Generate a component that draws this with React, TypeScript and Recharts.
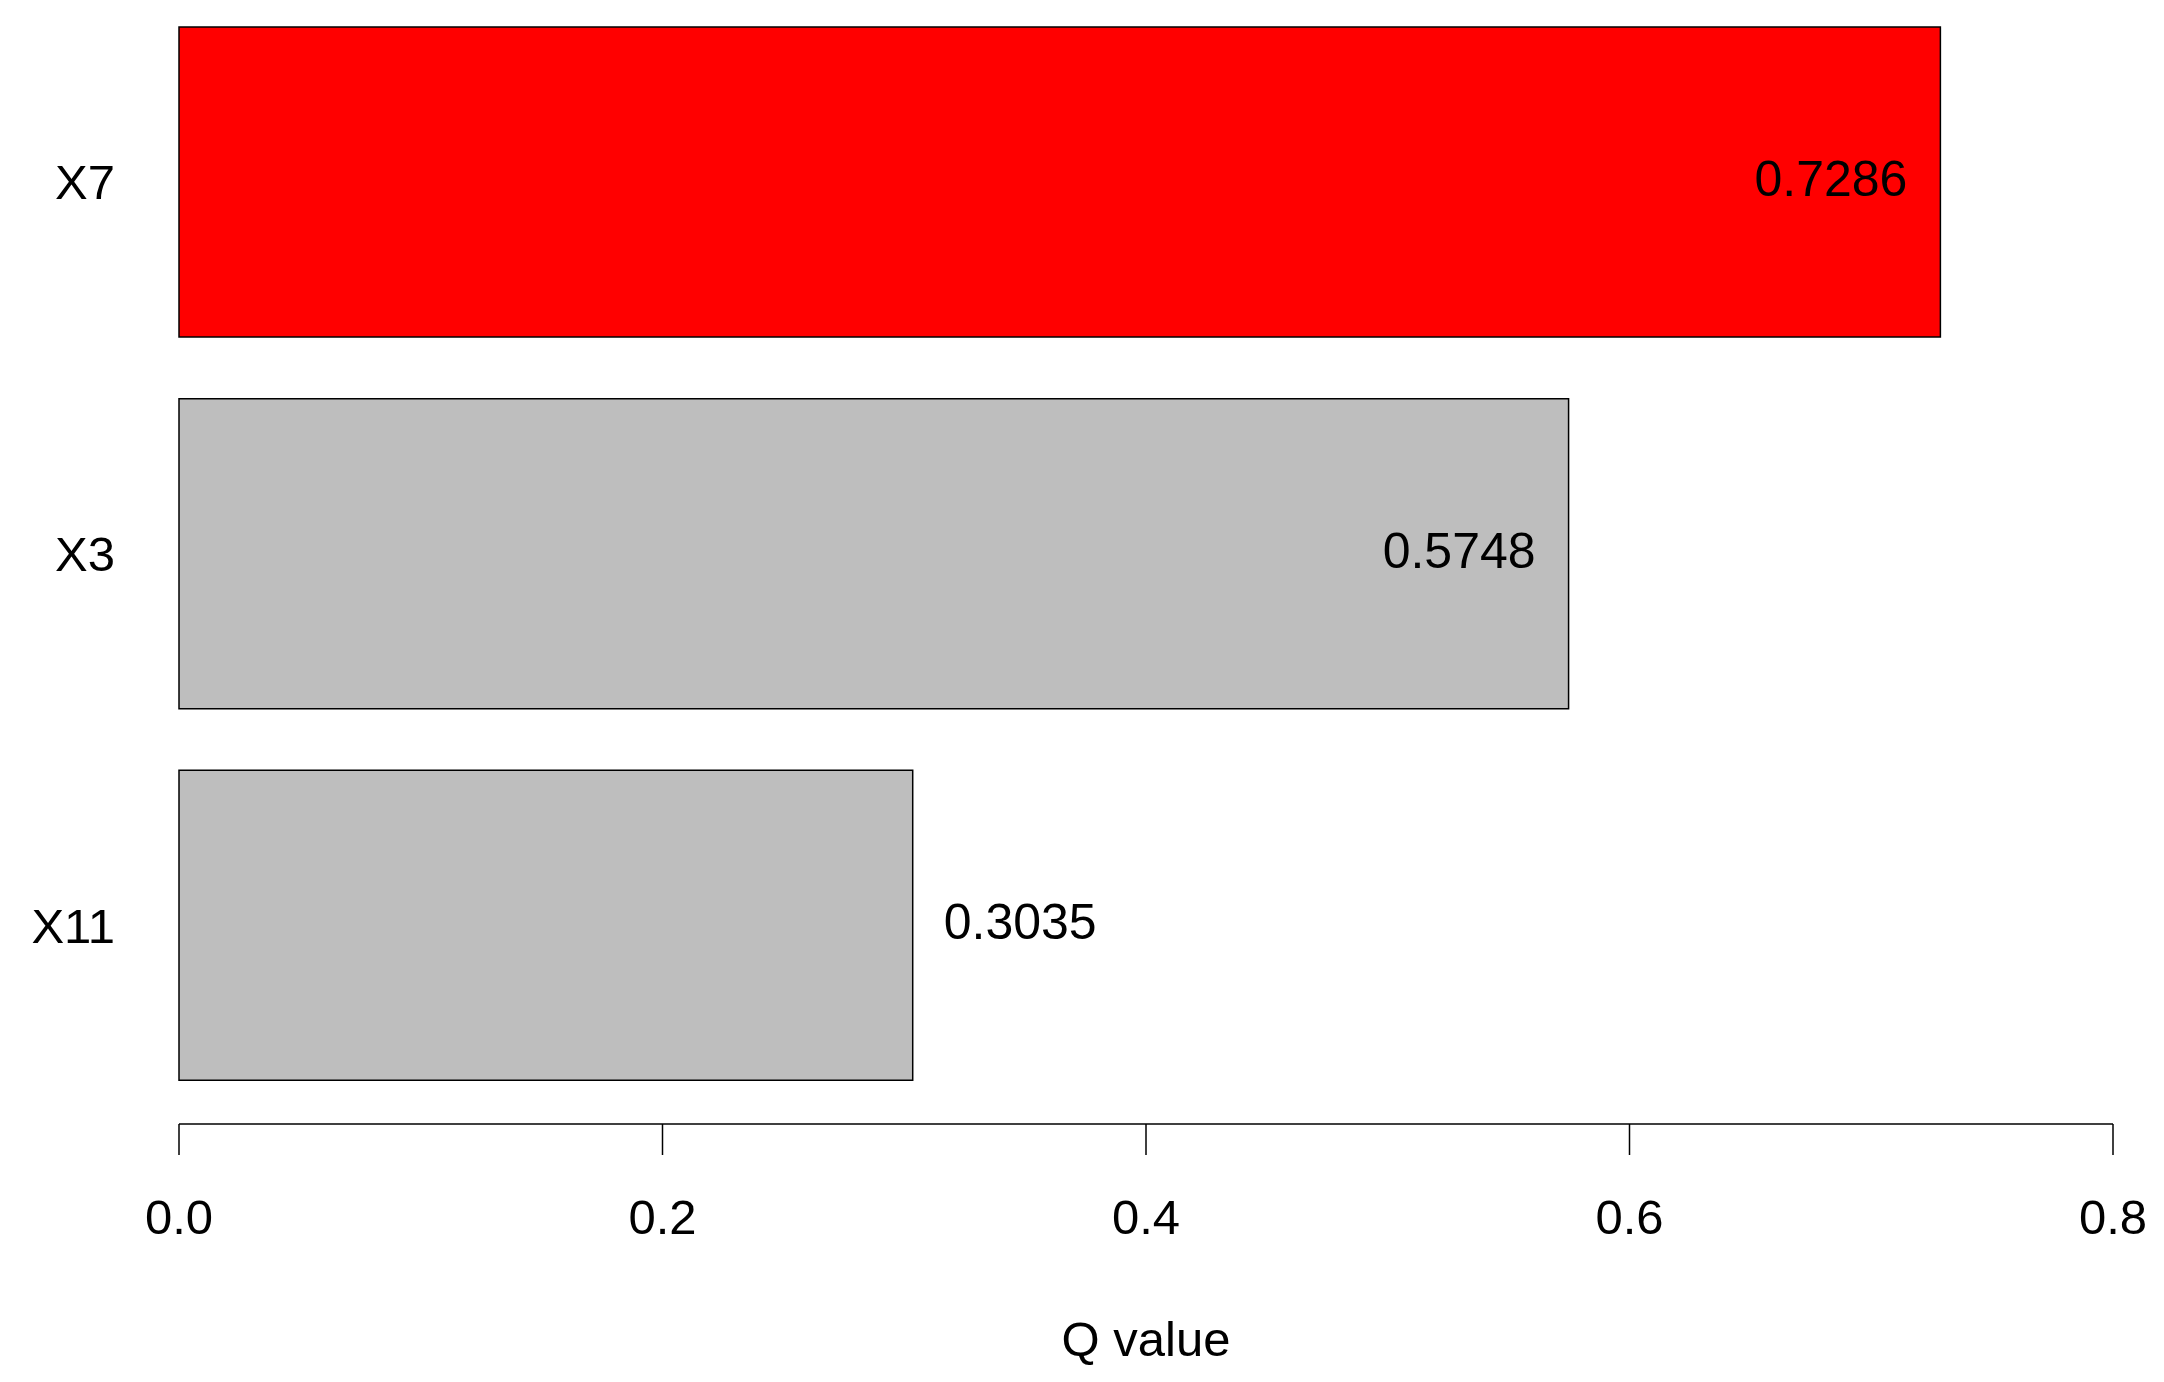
import React from 'react';
import { BarChart, Bar, XAxis, YAxis, Cell, LabelList } from 'recharts';

const categories = ['X7', 'X3', 'X11'];
const qValues = [0.7286, 0.5748, 0.3035];
const xTicks = [0, 0.2, 0.4, 0.6, 0.8];
const highlighted = 'X7';

const data = categories.map((name, i) => ({ name, q: qValues[i] }));

const FONT = '"Liberation Sans", Arial, sans-serif';
const W = 2164;
const H = 1392;
const Y_AXIS_W = 100;

// values on long bars sit inside the right end, short ones just outside
const ValueLabel = (props: any) => {
  const { x, y, width, height, value } = props;
  const v = Number(value);
  const inside = v > 0.5;
  const bx = Number(x) + Number(width);
  return (
    <text
      x={inside ? bx - 33 : bx + 31}
      y={Number(y) + Number(height) / 2}
      dy="0.28em"
      textAnchor={inside ? 'end' : 'start'}
      fontSize={50}
      fontFamily={FONT}
      fill="#000"
    >
      {v.toFixed(4)}
    </text>
  );
};

export default function App() {
  return (
    <div style={{ position: 'absolute', left: 0, top: -10, width: W, height: H, background: '#fff', fontFamily: FONT }}>
      <BarChart
        layout="vertical"
        width={W}
        height={H}
        data={data}
        margin={{ top: 6, right: 51, bottom: 61, left: 179 - Y_AXIS_W }}
      >
        <XAxis
          type="number"
          dataKey="q"
          domain={[0, 0.8]}
          ticks={xTicks}
          tickFormatter={(v: number) => v.toFixed(1)}
          height={197}
          axisLine={{ stroke: '#000', strokeWidth: 1.5 }}
          tickLine={{ stroke: '#000', strokeWidth: 1.5 }}
          tickSize={31}
          tickMargin={44}
          tick={{ fill: '#000', fontSize: 49, fontFamily: FONT }}
          label={{ value: 'Q value', position: 'bottom', offset: 0, fill: '#000', fontSize: 49, fontFamily: FONT }}
        />
        <YAxis
          type="category"
          dataKey="name"
          width={Y_AXIS_W}
          axisLine={false}
          tickLine={false}
          tickSize={64}
          tickMargin={0}
          padding={{ top: 0, bottom: 13 }}
          tick={{ fill: '#000', fontSize: 49, fontFamily: FONT }}
        />
        <Bar dataKey="q" barSize={310} stroke="#000" strokeWidth={1.5} isAnimationActive={false}>
          {data.map((d) => (
            <Cell key={d.name} fill={d.name === highlighted ? '#FF0000' : '#BEBEBE'} />
          ))}
          <LabelList dataKey="q" content={<ValueLabel />} />
        </Bar>
      </BarChart>
    </div>
  );
}
